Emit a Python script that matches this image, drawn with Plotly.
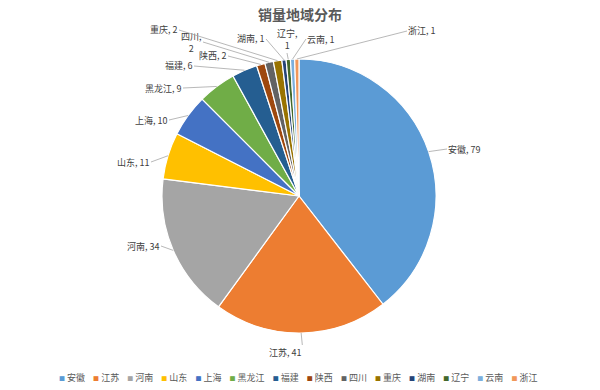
import math
import plotly.graph_objects as go

# ---- data ----
categories = ["安徽", "江苏", "河南", "山东", "上海", "黑龙江", "福建",
              "陕西", "四川", "重庆", "湖南", "辽宁", "云南", "浙江"]
values = [79, 41, 34, 11, 10, 9, 6, 2, 2, 2, 1, 1, 1, 1]
title_text = "销量地域分布"

# ---- styles ----
colors = ["#5B9BD5", "#ED7D31", "#A5A5A5", "#FFC000", "#4472C4", "#70AD47",
          "#255E91", "#9E480E", "#636363", "#997300", "#264478", "#43682B",
          "#7CAFDD", "#F1975A"]

W, H = 600, 390
CX, CY, R = 299, 196, 137

# label placement (pixel tail position, anchors, wrap)
label_layout = {
    "安徽": dict(tx=447, ty=149, xa="left", ya="middle", wrap=False),
    "江苏": dict(tx=303, ty=352, xa="right", ya="middle", wrap=False),
    "河南": dict(tx=161, ty=246, xa="right", ya="middle", wrap=False),
    "山东": dict(tx=151, ty=162, xa="right", ya="middle", wrap=False),
    "上海": dict(tx=169, ty=120, xa="right", ya="middle", wrap=False),
    "黑龙江": dict(tx=183, ty=88, xa="right", ya="middle", wrap=False),
    "福建": dict(tx=194, ty=66, xa="right", ya="middle", wrap=False),
    "陕西": dict(tx=228, ty=56, xa="right", ya="middle", wrap=False),
    "四川": dict(tx=203, ty=42, xa="right", ya="middle", wrap=True),
    "重庆": dict(tx=179, ty=30, xa="right", ya="middle", wrap=False),
    "湖南": dict(tx=266, ty=39, xa="right", ya="middle", wrap=False),
    "辽宁": dict(tx=287, ty=53, xa="center", ya="bottom", wrap=True),
    "云南": dict(tx=306, ty=39, xa="left", ya="middle", wrap=False),
    "浙江": dict(tx=407, ty=31, xa="left", ya="middle", wrap=False),
}

fig = go.Figure(go.Pie(
    labels=categories,
    values=values,
    sort=False,
    direction="clockwise",
    rotation=0,
    marker=dict(colors=colors, line=dict(color="white", width=1.2)),
    textinfo="none",
    showlegend=False,
    domain=dict(x=[(CX - R) / W, (CX + R) / W],
                y=[1 - (CY + R) / H, 1 - (CY - R) / H]),
))

annotations = []
total = sum(values)
cum = 0
for cat, val in zip(categories, values):
    mid = (cum + val / 2) / total * 2 * math.pi
    cum += val
    px = CX + R * math.sin(mid)
    py = CY - R * math.cos(mid)
    lay = label_layout[cat]
    sep = ",<br>" if lay["wrap"] else ", "
    annotations.append(dict(
        x=px / W, y=1 - py / H, xref="paper", yref="paper",
        text=f"{cat}{sep}{val}",
        showarrow=True, arrowhead=0, arrowwidth=0.8, arrowcolor="#A6A6A6",
        ax=lay["tx"] - px, ay=lay["ty"] - py, standoff=0,
        xanchor=lay["xa"], yanchor=lay["ya"], align="center",
        borderpad=0,
        font=dict(family="Noto Sans CJK SC", size=9, color="#404040"),
    ))

# custom legend
parts = []
for cat, col in zip(categories, colors):
    parts.append(f'<span style="color:{col};font-size:6px">■</span> {cat}')
legend_text = "&nbsp;&nbsp;&nbsp;&nbsp;".join(parts)
annotations.append(dict(
    x=298 / W, y=1 - 377 / H, xref="paper", yref="paper",
    text=legend_text, showarrow=False, xanchor="center", yanchor="middle",
    font=dict(family="Noto Sans CJK SC", size=9, color="#595959"),
))

fig.update_layout(
    width=W, height=H,
    margin=dict(l=0, r=0, t=0, b=0),
    paper_bgcolor="white", plot_bgcolor="white",
    title=dict(text=title_text, x=0.5, xanchor="center", y=1 - 15 / H,
               yanchor="middle",
               font=dict(family="Noto Sans CJK SC", size=14, color="#595959",
                         weight="bold")),
    annotations=annotations,
)

fig.write_html("out.html",
               config={"displayModeBar": False},
               post_script="document.body.style.margin='0';")
